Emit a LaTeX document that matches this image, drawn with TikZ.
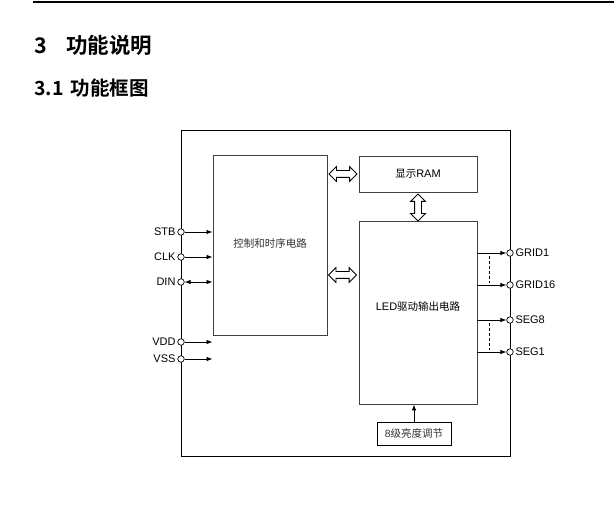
\documentclass[tikz,border=0pt]{standalone}
\usepackage{fontspec}
\setmainfont{Liberation Sans}
\newfontfamily\cjk{Noto Sans CJK SC}[BoldFont={Noto Sans CJK SC Bold}]
\usetikzlibrary{arrows.meta,shapes.arrows,calc}

\tikzset{
  blk/.style={draw=black!75, line width=0.9pt, inner sep=0pt},
  pin/.style={circle, draw, fill=white, inner sep=0pt, minimum size=6.5pt, line width=0.7pt},
  sig/.style={-{Latex[length=6pt,width=4.5pt]}, line width=0.8pt},
  bus/.style={double arrow, draw, line width=0.8pt, inner sep=3pt, minimum width=14pt,
    double arrow head extend=4pt, minimum height=28pt},
  lbl/.style={font=\fontsize{11}{13}\selectfont, inner sep=1.5pt},
  cjklbl/.style={font=\cjk\fontsize{10.5}{13}\selectfont, text=black!80}
}

\begin{document}
\begin{tikzpicture}[x=1pt, y=-1pt, line width=0.8pt]
  \useasboundingbox (0,0) rectangle (614,532);
  % page header and headings
  \draw[line width=1.5pt] (33,2) -- (614,2);
  \node[anchor=west, inner sep=0pt, font=\cjk\bfseries\fontsize{21.5}{24}\selectfont] (sec) at (34,45) {3\hspace{19pt}功能说明};
  \node[anchor=west, inner sep=0pt, font=\cjk\bfseries\fontsize{19.5}{22}\selectfont] (subsec) at (34,88) {3.1\hspace{7pt}功能框图};

  % chip outline
  \draw[line width=0.9pt] (181,130) rectangle (510,456);

  % blocks
  \node[blk, minimum width=114pt, minimum height=180pt] (ctrl) at (270,245) {};
  \node[cjklbl] at (270,243) {控制和时序电路};
  \node[blk, minimum width=118pt, minimum height=36pt] (ram) at (418,174) {{\cjk\fontsize{10.5}{13}\selectfont 显示}\fontsize{11}{13}\selectfont RAM};
  \node[blk, minimum width=118pt, minimum height=183pt] (led) at (418,312.5) {};
  \node at (418,306) {\fontsize{11}{13}\selectfont LED{\cjk\fontsize{10.5}{13}\selectfont 驱动输出电路}};
  \node[draw, line width=0.9pt, minimum width=74pt, minimum height=23pt, inner sep=0pt, cjklbl] (dim) at (414,433.5) {\fontspec{Liberation Sans}8\cjk 级亮度调节};

  % internal buses
  \node[bus] (b1) at ($(ctrl.east |- ram.west)!0.5!(ram.west)$) {};
  \node[bus] (b2) at (342.5,275) {};
  \node[bus, rotate=90, minimum height=27pt] (b3) at (418,207.5) {};
  \draw[sig] (dim.north) -- (dim.north |- led.south);

  % input pins
  \foreach \p/\y in {STB/232, CLK/257, DIN/282, VDD/342, VSS/359} {
    \node[pin] (\p) at (181,\y) {};
    \node[lbl, anchor=east] at (\p.west) {\p};
  }
  \draw[sig] (STB) -- (STB -| ctrl.west);
  \draw[sig] (CLK) -- (CLK -| ctrl.west);
  \draw[{Latex[length=6pt,width=4.5pt]}-{Latex[length=6pt,width=4.5pt]}] (DIN) -- (DIN -| ctrl.west);
  \draw[sig] (VDD) -- (VDD -| ctrl.west);
  \draw[sig] (VSS) -- (VSS -| ctrl.west);

  % output pins
  \foreach \p/\y in {GRID1/253, GRID16/285, SEG8/320, SEG1/352} {
    \node[pin] (\p) at (510,\y) {};
    \node[lbl, anchor=west] at (\p.east) {\p};
    \draw[sig] (\p -| led.east) -- (\p);
  }
  \draw[dashed, line width=0.7pt, dash pattern=on 3pt off 2pt] (489,256) -- (489,283);
  \draw[dashed, line width=0.7pt, dash pattern=on 3pt off 2pt] (489,323) -- (489,350);
\end{tikzpicture}
\end{document}
